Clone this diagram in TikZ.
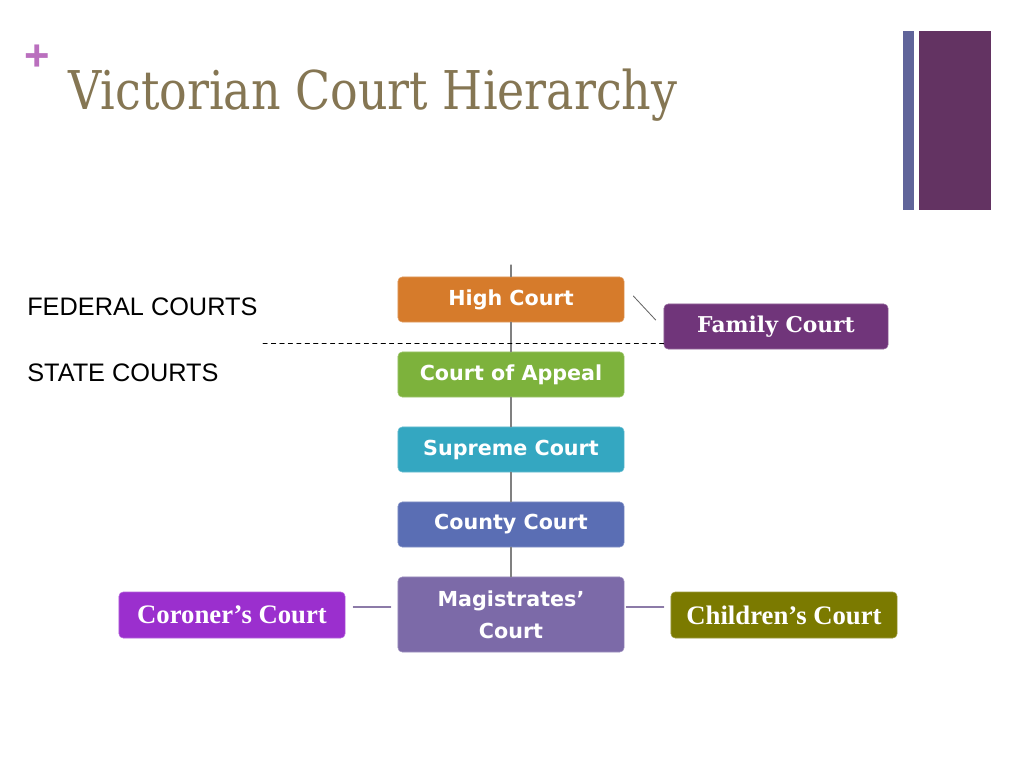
\documentclass[tikz,border=0pt]{standalone}
\usepackage{fontspec}
\usetikzlibrary{calc}
\setmainfont{Liberation Serif}
\newfontfamily\labfont{Liberation Sans}
\newfontfamily\boxfont{DejaVu Sans}
\newfontfamily\slabfont{DejaVu Serif}
\definecolor{plusc}{HTML}{BA6FBE}
\definecolor{titlec}{HTML}{857653}
\definecolor{barA}{HTML}{60649A}
\definecolor{barB}{HTML}{633362}
\definecolor{highc}{HTML}{D67B2B}
\definecolor{appealc}{HTML}{7DB23C}
\definecolor{supremec}{HTML}{34A7C1}
\definecolor{countyc}{HTML}{5A6EB4}
\definecolor{magc}{HTML}{7C6AA8}
\definecolor{familyc}{HTML}{70357A}
\definecolor{coronerc}{HTML}{9B2FCE}
\definecolor{childc}{HTML}{7B7A00}
\definecolor{linkc}{HTML}{8C7BA8}
\tikzset{
	court/.style={fill=#1, draw=#1!75!white, rounded corners=3pt, text=white, minimum width=5.65cm, minimum height=1.125cm, inner sep=0pt, font=\boxfont\bfseries\fontsize{14.7}{22.8}\selectfont, align=center},
	side/.style={court=#1, font=\bfseries\fontsize{19}{23}\selectfont},
	level/.style={anchor=west, inner sep=0pt, font=\labfont\fontsize{18}{21}\selectfont},
	link/.style={linkc, line width=0.8pt}
}
\begin{document}
\begin{tikzpicture}[x=0.025cm, y=-0.025cm, line join=round, line cap=round]
	\useasboundingbox (0,0) rectangle (1024,768);
	\node[anchor=center, text=plusc, font=\labfont\bfseries\fontsize{31}{31}\selectfont] (plus) at (37,58) {+};
	\node[anchor=base west, inner sep=0pt, text=titlec, font=\slabfont\fontsize{38}{44}\selectfont] (title) at (68,110) {\scalebox{0.86}[1]{Victorian Court Hierarchy}};
	\fill[barA] (903,31) rectangle (914,210);
	\fill[barB] (919,31) rectangle (991,210);

	\node[level] (federal) at (27,307) {FEDERAL COURTS};
	\node[level] (state) at (27,373) {STATE COURTS};

	\node[court=highc] (high) at (511,299.5) {High Court};
	\node[court=appealc] (appeal) at (511,374.5) {Court of Appeal};
	\node[court=supremec] (supreme) at (511,449.5) {Supreme Court};
	\node[court=countyc] (county) at (511,524.5) {County Court};
	\node[court=magc, minimum height=1.875cm] (mag) at (511,614.5) {Magistrates’\\Court};
	\node[court=familyc, minimum width=5.6cm, font=\slabfont\bfseries\fontsize{15.5}{18}\selectfont] (family) at (776,326.5) {Family Court};
	\node[side=coronerc, minimum height=1.15cm] (coroner) at (232,615) {Coroner’s Court};
	\node[side=childc, minimum height=1.15cm] (children) at (784,615) {Children’s Court};

	\coordinate (top) at (511,265);
	\coordinate (split) at (263,343);
	\draw[gray, line width=0.8pt] (top) -- (high.north) (high.south) -- (appeal.north) (appeal.south) -- (supreme.north) (supreme.south) -- (county.north) (county.south) -- (mag.north);
	\draw[dashed, line width=0.6pt] (split) -- (split -| family.west);
	\draw[line width=0.6pt, gray!80!black] ($(high.east)+(9,-3.5)$) -- ($(family.west)+(-8,-6.5)$);
	\draw[link] ($(coroner.east)+(8,-8)$) -- ($(mag.west)+(-7,-7.5)$);
	\draw[link] ($(mag.east)+(2,-7.5)$) -- ($(children.west)+(-7,-8)$);
\end{tikzpicture}
\end{document}
